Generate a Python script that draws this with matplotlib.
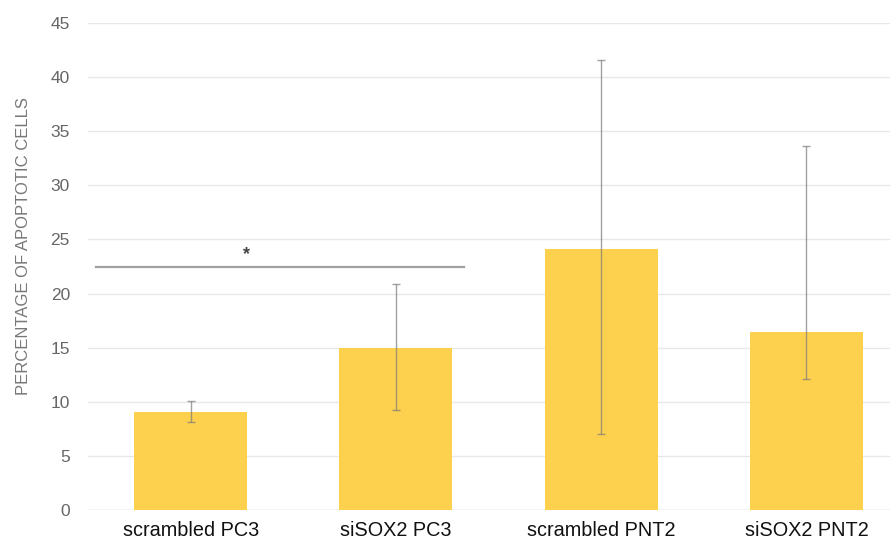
import numpy as np
import matplotlib
matplotlib.use('Agg')
import matplotlib.pyplot as plt

plt.rcParams['font.family'] = ['Liberation Sans', 'DejaVu Sans']

# ── Data ──────────────────────────────────────────────────────────────────────
groups = ['scrambled PC3', 'siSOX2 PC3', 'scrambled PNT2', 'siSOX2 PNT2']
means = [9.1, 15.0, 24.15, 16.45]
err_high = [10.1, 20.85, 41.6, 33.65]   # top of error bar
err_low = [8.1, 9.25, 7.0, 12.15]       # bottom of error bar
sig_y = 22.45
sig_span = (0, 1)
y_ticks = [0, 5, 10, 15, 20, 25, 30, 35, 40, 45]

BAR_COLOR = '#FDD14D'
GRID_COLOR = '#E8E8E8'

fig = plt.figure(figsize=(8.9, 5.47), dpi=100)
ax = fig.add_axes([88 / 890, 37 / 547, 1 - 88 / 890, (510 - 23) / 547])

x = np.arange(len(groups))
means_a = np.array(means)
yerr = [means_a - np.array(err_low), np.array(err_high) - means_a]

ax.bar(x, means, width=0.55, color=BAR_COLOR, zorder=2)
ax.errorbar(x, means, yerr=yerr, fmt='none', ecolor='#7a7a7a', alpha=0.7,
            elinewidth=1, capsize=3, capthick=1, zorder=3)

# significance bracket between the two PC3 bars
ax.plot([sig_span[0] - 0.46, sig_span[1] + 0.33], [sig_y, sig_y],
        color='#a0a0a0', lw=1.6, zorder=3)
ax.text(0.27, sig_y + 0.4, '*', ha='center', va='bottom', fontsize=13,
        color='#444444', fontweight='bold')

ax.set_xlim(-0.5, 3.407)
ax.set_ylim(0, 45)
ax.set_yticks(y_ticks)
ax.set_xticks(x)
ax.set_xticklabels(groups, fontsize=14.3, color='#111111')
ax.tick_params(axis='y', length=0, pad=13, labelsize=12.5, labelcolor='#666666')
ax.tick_params(axis='x', length=0, pad=8)
ax.grid(axis='y', color=GRID_COLOR, lw=1, zorder=0)
ax.set_axisbelow(True)
for s in ax.spines.values():
    s.set_visible(False)
ax.axhline(0, color='#d9d9d9', lw=1, zorder=1)

ax.set_ylabel('PERCENTAGE OF APOPTOTIC CELLS', fontsize=12, color='#777777')
ax.yaxis.set_label_coords(-0.071, 0.542)
for lab in ax.get_yticklabels():
    lab.set_clip_on(False)

fig.savefig('out.png', dpi=100)
